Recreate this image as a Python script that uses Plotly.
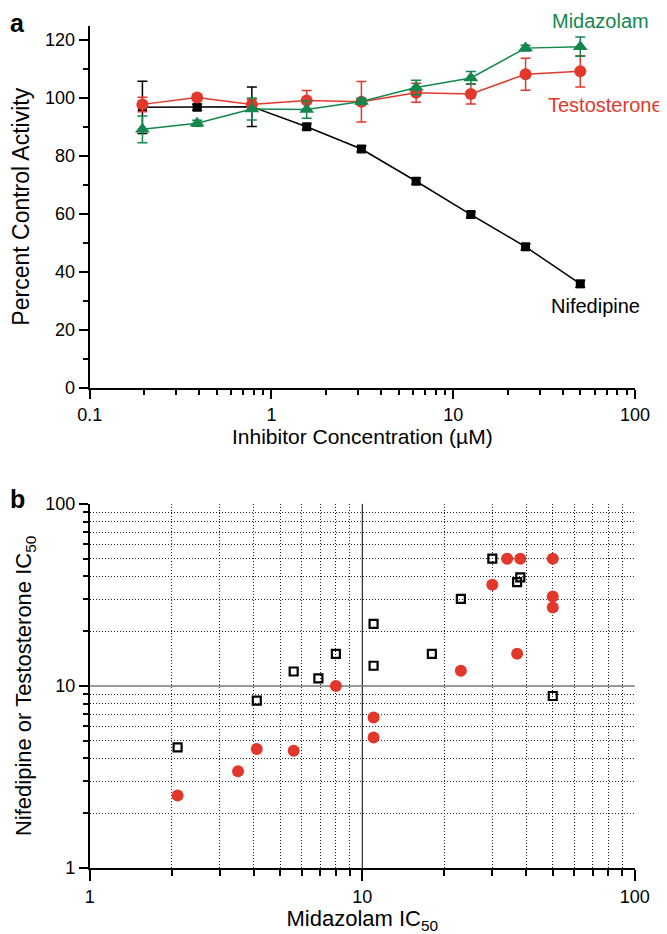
import plotly.graph_objects as go

# panel a: inhibitor concentration series (uM) and % control activity
conc = [0.195, 0.39, 0.78, 1.5625, 3.125, 6.25, 12.5, 25, 50]
nifedipine = [96.8, 96.8, 97.0, 90.1, 82.4, 71.3, 59.8, 48.7, 35.9]
nifedipine_err = [9.0, 1.0, 6.8, 1.0, 1.0, 1.0, 1.0, 1.0, 1.2]
testosterone = [97.8, 100.2, 97.8, 99.1, 98.7, 101.8, 101.4, 108.2, 109.2]
testosterone_err = [2.5, 1.0, 1.8, 3.5, 7.0, 3.3, 3.5, 5.5, 5.4]
midazolam = [89.2, 91.3, 96.2, 96.0, 98.8, 103.6, 106.9, 117.2, 117.7]
midazolam_err = [4.6, 1.0, 3.8, 3.0, 1.0, 2.5, 2.2, 1.0, 3.3]

# panel b: IC50 comparison
mdz_x_nif = [30, 38, 37, 23, 11, 8, 18, 5.6, 6.9, 11, 4.1, 50, 2.1]
nif_ic50 = [50, 39.5, 37.2, 30.1, 21.9, 15, 15, 12, 11, 12.9, 8.3, 8.8, 4.6]
mdz_x_tst = [34, 38, 50, 30, 50, 50, 37, 23, 8, 11, 11, 4.1, 5.6, 3.5, 2.1]
tst_ic50 = [50, 50, 50, 36, 31, 27, 15, 12.1, 10, 6.7, 5.2, 4.5, 4.4, 3.4, 2.5]

BLACK = "black"
RED = "#e2382c"
GREEN = "#14884c"
FONT = "Liberation Sans, Arial, sans-serif"

W, H = 667, 934


def px(x):
    return x / W


def py(y):
    return 1 - y / H


fig = go.Figure()


def curve(y, err, color, symbol, size):
    fig.add_trace(go.Scatter(
        x=conc, y=y, mode="lines+markers",
        line=dict(color=color, width=1.5),
        marker=dict(color=color, symbol=symbol, size=size),
        error_y=dict(type="data", array=err, color=color, thickness=1.5, width=5),
        xaxis="x", yaxis="y"))


curve(nifedipine, nifedipine_err, BLACK, "square", 9)
curve(testosterone, testosterone_err, RED, "circle", 12)
curve(midazolam, midazolam_err, GREEN, "triangle-up", 13)

fig.add_trace(go.Scatter(
    x=mdz_x_nif, y=nif_ic50, mode="markers",
    marker=dict(symbol="square-open", color=BLACK, size=8, line=dict(width=2.2)),
    xaxis="x2", yaxis="y2"))
fig.add_trace(go.Scatter(
    x=mdz_x_tst, y=tst_ic50, mode="markers",
    marker=dict(symbol="circle", color=RED, size=12),
    xaxis="x2", yaxis="y2"))

axis_common = dict(showline=True, linecolor=BLACK, linewidth=2, ticks="outside",
                   tickcolor=BLACK, tickwidth=2, ticklen=9, zeroline=False,
                   tickfont=dict(size=18, color=BLACK), showgrid=False, automargin=False)
minor_log = [2, 3, 4, 5, 6, 7, 8, 9, 20, 30, 40, 50, 60, 70, 80, 90]

fig.update_layout(
    width=W, height=H, margin=dict(l=0, r=0, t=0, b=0),
    paper_bgcolor="white", plot_bgcolor="white", showlegend=False,
    font=dict(family=FONT, color=BLACK),
    xaxis=dict(axis_common, type="log", range=[-1, 2], domain=[px(81.7), px(627)],
               anchor="y", tickvals=[0.1, 1, 10, 100], ticktext=["0.1", "1", "10", "100"],
               minor=dict(tickvals=[0.2, 0.3, 0.4, 0.5, 0.6, 0.7, 0.8, 0.9] + minor_log,
                          ticks="outside", ticklen=5, tickwidth=2, tickcolor=BLACK),
               title=dict(text="Inhibitor Concentration (µM)", font=dict(size=21), standoff=6)),
    yaxis=dict(axis_common, range=[0, 125], domain=[py(380), py(17.5)], anchor="x",
               tickvals=[0, 20, 40, 60, 80, 100, 120],
               minor=dict(tickvals=[10, 30, 50, 70, 90, 110], ticks="outside",
                          ticklen=5, tickwidth=2, tickcolor=BLACK),
               title=dict(text="Percent Control Activity", font=dict(size=23), standoff=9)),
    xaxis2=dict(axis_common, type="log", range=[0, 2], domain=[px(81.8), px(626.8)],
                anchor="y2", tickvals=[1, 10, 100], ticktext=["1", "10", "100"], ticklen=11,
                minor=dict(tickvals=minor_log, ticks="outside", ticklen=6, tickwidth=2,
                           tickcolor=BLACK, showgrid=True, gridcolor="#222",
                           gridwidth=1, griddash="1px,2px"),
                title=dict(text="Midazolam IC<sub>50</sub>", font=dict(size=22), standoff=4)),
    yaxis2=dict(axis_common, type="log", range=[0, 2], domain=[py(859.9), py(495.9)],
                anchor="x2", tickvals=[1, 10, 100], ticktext=["1", "10", "100"],
                minor=dict(tickvals=minor_log, ticks="outside", ticklen=5, tickwidth=2,
                           tickcolor=BLACK, showgrid=True, gridcolor="#222",
                           gridwidth=1, griddash="1px,2px"),
                title=dict(text="Nifedipine or Testosterone IC<sub>50</sub>",
                           font=dict(size=22), standoff=7)),
)

# reference lines at IC50 = 10
fig.add_shape(type="line", xref="x2", yref="y2 domain", x0=10, x1=10, y0=0, y1=1,
              line=dict(color=BLACK, width=1), layer="below")
fig.add_shape(type="line", xref="x2 domain", yref="y2", x0=0, x1=1, y0=10, y1=10,
              line=dict(color="#777", width=1.5), layer="below")

labels = [("Midazolam", 592, 13, GREEN), ("Testosterone", 597, 97, RED),
          ("Nifedipine", 587, 298, BLACK)]
for text, x, y, c in labels:
    fig.add_annotation(text=text, x=px(x), y=py(y), xref="paper", yref="paper",
                       xanchor="center", yanchor="middle",
                       showarrow=False, font=dict(size=20, color=c))

for text, x, y in [("a", 9, 15), ("b", 9, 491)]:
    fig.add_annotation(text=f"<b>{text}</b>", x=px(x), y=py(y), xref="paper", yref="paper",
                       xanchor="center", yanchor="middle",
                       showarrow=False, font=dict(size=25, color=BLACK))

fig.write_html("out.html")
